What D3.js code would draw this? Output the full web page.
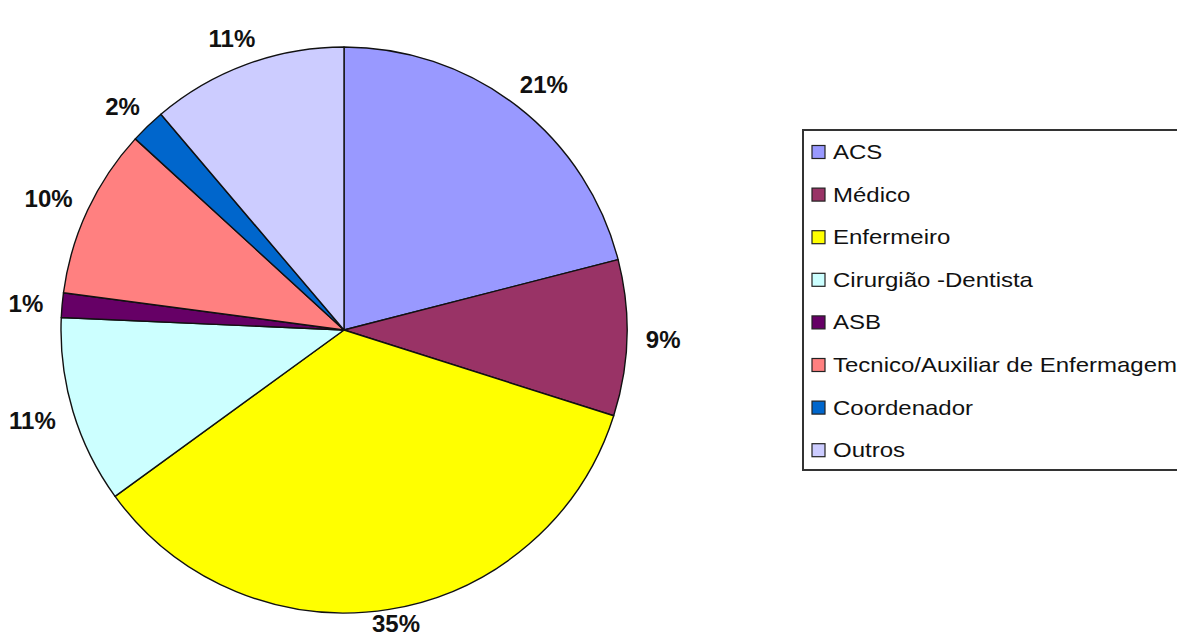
<!DOCTYPE html>
<html><head><meta charset="utf-8">
<script src="https://cdn.jsdelivr.net/npm/d3@7"></script>
<style>body{margin:0;background:#fff;}svg{display:block;}</style>
</head><body>
<svg id="c" width="1177" height="637"></svg>
<script>
const categories = ["ACS","Médico","Enfermeiro","Cirurgião -Dentista","ASB","Tecnico/Auxiliar de Enfermagem","Coordenador","Outros"];
const values = [21.0, 8.9, 35.1, 10.7, 1.4, 9.7, 2.0, 11.2];
const labels = ["21%","9%","35%","11%","1%","10%","2%","11%"];
const colors = ["#9999FF","#993366","#FFFF00","#CCFFFF","#660066","#FF8080","#0066CC","#CCCCFF"];

const W = 1177, H = 637;
const svg = d3.select("#c");
const cx = 344, cy = 330, r = 283;
const pie = d3.pie().sort(null).value(d => d)(values);
const arc = d3.arc().innerRadius(0).outerRadius(r);
const g = svg.append("g").attr("transform", `translate(${cx},${cy})`);
g.selectAll("path").data(pie).join("path")
  .attr("d", arc).attr("fill", (d,i) => colors[i])
  .attr("stroke", "#111").attr("stroke-width", 1.4).attr("stroke-linejoin","round");

// labels (kept inside the chart area, like the original)
const lab = g.selectAll("text.lab").data(pie).join("text").attr("class","lab")
  .attr("font-family","Liberation Sans, Arial, sans-serif").attr("font-weight","bold")
  .attr("font-size",24).attr("fill","#111").attr("text-anchor","middle")
  .text((d,i) => labels[i]);
lab.each(function(d){
  const a = (d.startAngle + d.endAngle)/2;
  const w = this.getBBox().width, h = 18;
  const rr = r + 19;
  const x = rr*Math.sin(a) + w/2*Math.sin(a);
  let base = -rr*Math.cos(a) - h/2*Math.cos(a) + h/2;
  base = Math.min(base, H - 5 - cy);
  d3.select(this).attr("x", x).attr("y", base);
});

// legend
const lx = 803, ly = 130, lh = 340;
svg.append("rect").attr("x", lx).attr("y", ly).attr("width", 420).attr("height", lh)
  .attr("fill","#fff").attr("stroke","#333").attr("stroke-width",2);
const rowH = 42.6, row0 = 152;
const leg = svg.selectAll("g.leg").data(categories).join("g").attr("class","leg")
  .attr("transform",(d,i)=>`translate(${lx+9},${row0 + i*rowH})`);
leg.append("rect").attr("x",0).attr("y",-6.5).attr("width",13).attr("height",13)
  .attr("fill",(d,i)=>colors[i]).attr("stroke","#222").attr("stroke-width",1.2);
leg.append("text").attr("x",0).attr("y",7)
  .attr("transform","translate(21,0) scale(1.2,1)")
  .attr("font-family","Liberation Sans, Arial, sans-serif").attr("font-size",20)
  .attr("fill","#111").text(d=>d);
</script>
</body></html>
